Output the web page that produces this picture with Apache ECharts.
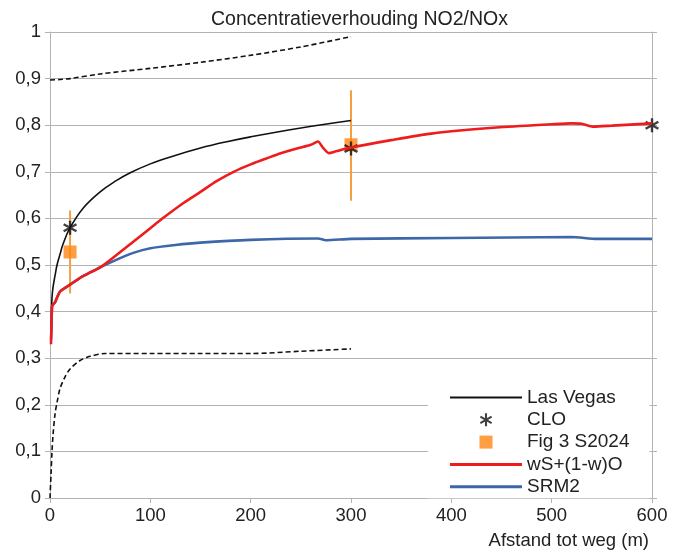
<!DOCTYPE html>
<html>
<head>
<meta charset="utf-8">
<script src="https://cdn.jsdelivr.net/npm/echarts@6/dist/echarts.min.js"></script>
<style>
  html, body { margin: 0; padding: 0; background: #fff; }
  #chart { width: 674px; height: 554px; }
</style>
</head>
<body>
<div id="chart"></div>
<script>
// Las Vegas (zwart, doorgetrokken)
const lasVegasX = [1, 1.5, 2, 3, 5, 7, 10, 13, 20, 33, 50, 66, 80, 100, 120, 150, 175, 200, 250, 300]
const lasVegasY = [0.355, 0.40, 0.43, 0.452, 0.477, 0.5, 0.523, 0.545, 0.58, 0.622, 0.657, 0.681, 0.698, 0.717, 0.732, 0.751, 0.764, 0.775, 0.794, 0.81]

// bandbreedte Las Vegas (gestippeld)
const upperX = [0, 10, 20, 50, 100, 150, 200, 250, 300]
const upperY = [0.897, 0.898, 0.900, 0.91, 0.922, 0.935, 0.95, 0.968, 0.99]
const lowerX = [0, 1, 2, 3, 5, 7, 10, 15, 20, 30, 40, 55, 100, 150, 200, 250, 300]
const lowerY = [0, 0.05, 0.1, 0.135, 0.18, 0.205, 0.235, 0.26, 0.277, 0.295, 0.304, 0.31, 0.31, 0.31, 0.31, 0.315, 0.32]

// CLO
const cloX = [20, 300, 600]
const cloY = [0.58, 0.75, 0.80]

// Fig 3 S2024 met foutbalken
const figX = [20, 300]
const figY = [0.528, 0.758]
const figLow = [0.439, 0.638]
const figHigh = [0.617, 0.875]

// wS+(1-w)O
const mixX = [1, 1.5, 2, 3, 5, 7, 10, 20, 27, 32, 40, 50, 66, 83, 100, 111, 133, 150, 166, 183, 200, 215, 230, 246, 260, 267, 272, 278, 285, 300, 340, 380, 445, 500, 520, 530, 541, 560, 600]
const mixY = [0.33, 0.37, 0.41, 0.415, 0.42, 0.43, 0.443, 0.458, 0.468, 0.475, 0.484, 0.495, 0.521, 0.55, 0.579, 0.598, 0.633, 0.657, 0.68, 0.7, 0.716, 0.728, 0.74, 0.75, 0.758, 0.765, 0.752, 0.74, 0.744, 0.752, 0.768, 0.782, 0.795, 0.802, 0.804, 0.803, 0.797, 0.799, 0.804]

// SRM2
const srmX = [1, 1.5, 2, 3, 5, 7, 10, 20, 27, 32, 40, 50, 66, 83, 100, 125, 150, 200, 267, 275, 300, 400, 520, 545, 600]
const srmY = [0.34, 0.37, 0.41, 0.415, 0.42, 0.43, 0.443, 0.458, 0.468, 0.475, 0.484, 0.495, 0.511, 0.526, 0.536, 0.543, 0.548, 0.554, 0.557, 0.553, 0.556, 0.558, 0.56, 0.556, 0.556]

const zip = (xs, ys) => xs.map((x, i) => [x, ys[i]])
const fmt = v => String(+v.toFixed(1)).replace('.', ',')

const FONT = 'Liberation Sans'
const GRID = '#b3b3b3'
const TEXT = '#222'
const asterisk = 'path://M-1.6,-10L1.6,-10L1.6,10L-1.6,10Z M7.86,-6.39L9.46,-3.61L-7.86,6.39L-9.46,3.61Z M-9.46,-3.61L-7.86,-6.39L9.46,3.61L7.86,6.39Z'
const lineIcon = w => 'path://M0,0L72,0L72,' + w + 'L0,' + w + 'Z'

const chart = echarts.init(document.getElementById('chart'))

chart.setOption({
  animation: false,
  textStyle: { fontFamily: FONT },
  title: {
    text: 'Concentratieverhouding NO2/NOx',
    left: 206, top: 5,
    textStyle: { fontSize: 19.5, fontWeight: 'normal', color: TEXT, fontFamily: FONT }
  },
  grid: { left: 50, right: 22, top: 32, bottom: 56 },
  legend: {
    orient: 'vertical',
    left: 428, top: 380,
    padding: [8, 20, 2, 22],
    backgroundColor: '#fff',
    itemWidth: 72, itemHeight: 13, itemGap: 3.3,
    textStyle: { fontSize: 19, color: TEXT, fontFamily: FONT },
    data: [
      { name: 'Las Vegas', icon: lineIcon(2) },
      { name: 'CLO', icon: asterisk },
      { name: 'Fig 3 S2024', icon: 'path://M0,0L1,0L1,1L0,1Z' },
      { name: 'wS+(1-w)O', icon: lineIcon(3) },
      { name: 'SRM2', icon: lineIcon(3) }
    ]
  },
  xAxis: {
    type: 'value', min: 0, max: 600, interval: 100,
    name: 'Afstand tot weg (m)', nameLocation: 'end', nameGap: -3,
    nameTextStyle: { fontSize: 18.5, color: TEXT, align: 'right', verticalAlign: 'top', padding: [33, 0, 0, 0] },
    axisLine: { show: true, lineStyle: { color: GRID } },
    axisTick: { show: true, length: 5, lineStyle: { color: GRID } },
    axisLabel: { fontSize: 18.5, color: TEXT, margin: 8 },
    splitLine: { show: false }
  },
  yAxis: [{
    type: 'value', min: 0, max: 1, interval: 0.1,
    axisLine: { show: true, lineStyle: { color: GRID } },
    axisTick: { show: true, length: 5, lineStyle: { color: GRID } },
    axisLabel: { fontSize: 18.5, color: TEXT, margin: 9, formatter: fmt },
    splitLine: { show: true, lineStyle: { color: GRID } }
  }, {
    type: 'value', min: 0, max: 1, interval: 0.1, position: 'right',
    axisLine: { show: true, lineStyle: { color: GRID } },
    axisTick: { show: true, length: 5, lineStyle: { color: GRID } },
    axisLabel: { show: false },
    splitLine: { show: false }
  }],
  series: [
    {
      name: 'bovengrens', type: 'line', data: zip(upperX, upperY), smooth: 0.3,
      symbol: 'none', lineStyle: { color: '#111', width: 1.6, type: [5, 3] }
    },
    {
      name: 'ondergrens', type: 'line', data: zip(lowerX, lowerY), smooth: 0.3,
      symbol: 'none', lineStyle: { color: '#111', width: 1.6, type: [5, 3] }
    },
    {
      name: 'Las Vegas', type: 'line', data: zip(lasVegasX, lasVegasY), smooth: 0.4,
      symbol: 'none', itemStyle: { color: '#111' }, lineStyle: { color: '#111', width: 1.6 }
    },
    {
      name: 'SRM2', type: 'line', data: zip(srmX, srmY), smooth: 0.2,
      symbol: 'none', itemStyle: { color: '#3c67a8' }, lineStyle: { color: '#3c67a8', width: 2.6 }
    },
    {
      name: 'wS+(1-w)O', type: 'line', data: zip(mixX, mixY), smooth: 0.25,
      symbol: 'none', itemStyle: { color: '#ee1c1c' }, lineStyle: { color: '#ee1c1c', width: 2.6 }
    },
    {
      name: 'foutbalk', type: 'custom',
      data: figX.map((x, i) => [x, figLow[i], figHigh[i]]),
      encode: { x: 0, y: [1, 2] },
      renderItem: (params, api) => {
        const p1 = api.coord([api.value(0), api.value(1)])
        const p2 = api.coord([api.value(0), api.value(2)])
        return {
          type: 'line',
          shape: { x1: p1[0], y1: p1[1], x2: p2[0], y2: p2[1] },
          style: { stroke: '#f5a040', lineWidth: 2 }
        }
      }
    },
    {
      name: 'Fig 3 S2024', type: 'scatter', data: zip(figX, figY),
      symbol: 'rect', symbolSize: 13, clip: false,
      itemStyle: { color: '#ff8614' }
    },
    {
      name: 'CLO', type: 'scatter', data: zip(cloX, cloY),
      symbol: asterisk, symbolSize: 14, clip: false,
      itemStyle: { color: '#111' }
    }
  ]
})
</script>
</body>
</html>
